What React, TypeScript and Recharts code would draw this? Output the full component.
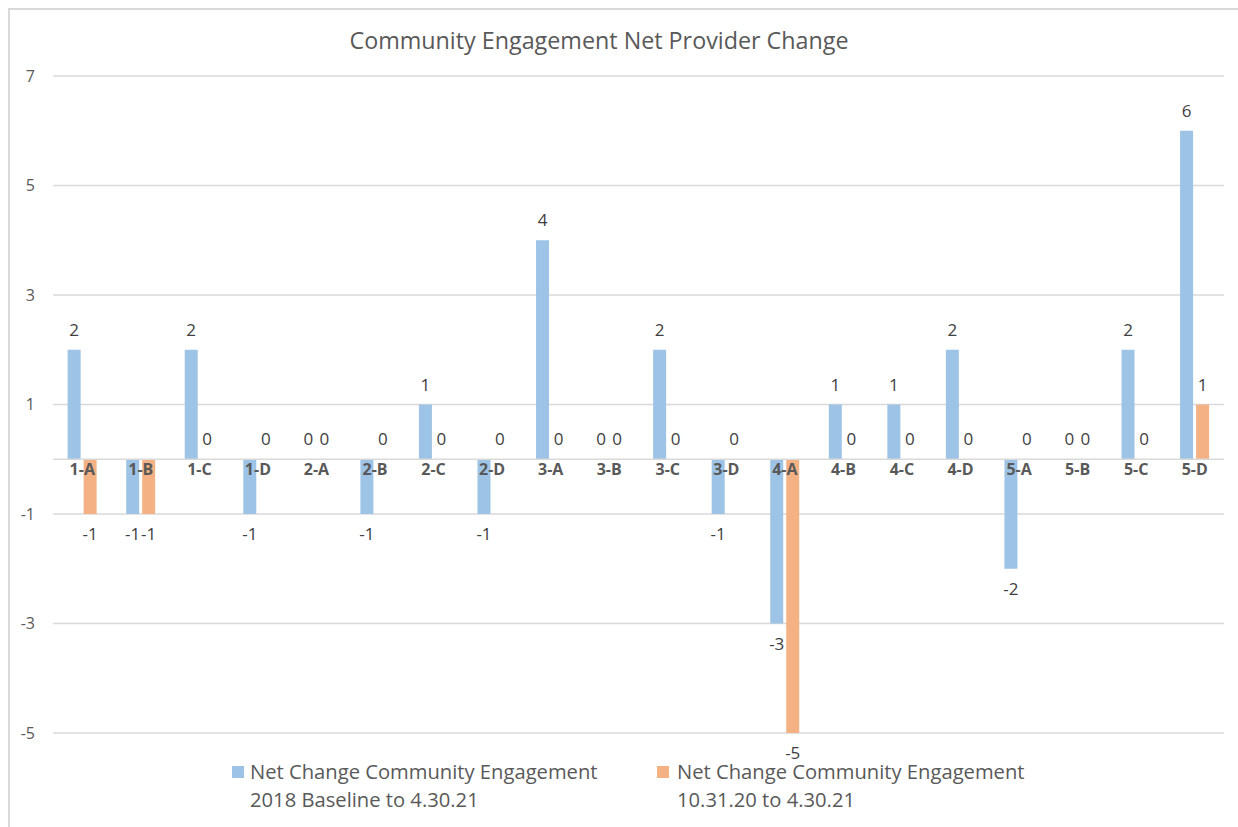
import { Bar, BarChart, CartesianGrid, LabelList, Legend, ReferenceLine, XAxis, YAxis } from "recharts";

const categories = ["1-A", "1-B", "1-C", "1-D", "2-A", "2-B", "2-C", "2-D", "3-A", "3-B", "3-C", "3-D", "4-A", "4-B", "4-C", "4-D", "5-A", "5-B", "5-C", "5-D"];
const baselineChange = [2, -1, 2, -1, 0, -1, 1, -1, 4, 0, 2, -1, -3, 1, 1, 2, -2, 0, 2, 6];
const recentChange = [-1, -1, 0, 0, 0, 0, 0, 0, 0, 0, 0, 0, -5, 0, 0, 0, 0, 0, 0, 1];
const yTicks = [-5, -3, -1, 1, 3, 5, 7];
const seriesNames = [
    ["Net Change Community Engagement", "2018 Baseline to 4.30.21"],
    ["Net Change Community Engagement", "10.31.20 to 4.30.21"],
];

const data = categories.map((name, i) => ({ name, baseline: baselineChange[i], recent: recentChange[i] }));

const BLUE = "#9DC3E6";
const ORANGE = "#F4B183";
const GRID = "#D9D9D9";
const TEXT = "#595959";
const FONT = "'Open Sans', sans-serif";

const W = 1228;
const H = 817;
const X_AXIS_H = 30;
const MARGIN = { top: 66, right: 14, bottom: 94 - X_AXIS_H, left: 0 };
const Y_MIN = -5;
const Y_MAX = 7;
const PLOT_H = H - MARGIN.top - MARGIN.bottom - X_AXIS_H;
const ZERO_Y = MARGIN.top + (PLOT_H * Y_MAX) / (Y_MAX - Y_MIN);

// category names sit on the zero line, not under the plot
const CategoryTick = (props: any) => {
    const { x, payload } = props;
    return (
        <text x={x} y={ZERO_Y + 16} textAnchor="middle" fontFamily={FONT} fontSize={16} fontWeight="bold" fill={TEXT}>
            {payload.value}
        </text>
    );
};

const ValueLabel = (props: any) => {
    const { x, y, width, height, value } = props;
    const top = Math.min(y, y + height);
    const bottom = Math.max(y, y + height);
    const cy = value < 0 ? bottom + 20 : top - 20;
    return (
        <text x={x + width / 2} y={cy + 6} textAnchor="middle" fontFamily={FONT} fontSize={17} fill="#404040">
            {String(value)}
        </text>
    );
};

// zero bars get a hairline so recharts still hands them to the labels
const zeroMin = (value: any) => (value === 0 ? 0.01 : 0);

const renderLegend = () => (
    <div style={{ position: "relative", height: 60, fontFamily: FONT, fontSize: 20.2, color: TEXT, lineHeight: "28px" }}>
        {[BLUE, ORANGE].map((c, i) => (
            <div key={i} style={{ position: "absolute", left: i == 0 ? 222 : 647, top: 0 }}>
                <span style={{ position: "absolute", left: 0, top: 9, width: 12, height: 12, background: c }} />
                <div style={{ marginLeft: i == 0 ? 18 : 20, whiteSpace: "nowrap" }}>
                    {seriesNames[i][0]}<br />{seriesNames[i][1]}
                </div>
            </div>
        ))}
    </div>
);

export default function App() {
    return (
        <>
            <style>{`body{margin:0;overflow:hidden}`}</style>
            <div style={{
                position: "absolute", left: 8, top: 8, width: W + 12, height: H + 12,
                borderLeft: `2px solid ${GRID}`, borderTop: `2px solid ${GRID}`, background: "#fff", overflow: "hidden"
            }}>
                <BarChart width={W} height={H} data={data} margin={MARGIN} barCategoryGap="25%" barGap={3}>
                    <text x={589} y={39} textAnchor="middle" fontFamily={FONT} fontSize={23.3} fill={TEXT}>
                        Community Engagement Net Provider Change
                    </text>
                    <CartesianGrid vertical={false} stroke={GRID} strokeWidth={1.5} />
                    <XAxis dataKey="name" height={X_AXIS_H} axisLine={false} tickLine={false} tick={<CategoryTick />} interval={0} />
                    <YAxis
                        width={43}
                        domain={[Y_MIN, Y_MAX]}
                        ticks={yTicks}
                        axisLine={false}
                        tickLine={false}
                        tickMargin={12}
                        tick={{ fontFamily: FONT, fontSize: 16, fill: TEXT }}
                    />
                    <ReferenceLine y={0} stroke={GRID} strokeWidth={1.5} />
                    <Legend
                        layout="horizontal"
                        verticalAlign="middle"
                        align="center"
                        content={renderLegend}
                        wrapperStyle={{ position: "absolute", left: 0, top: 747, width: W }}
                    />
                    <Bar dataKey="baseline" name="2018 Baseline to 4.30.21" fill={BLUE} minPointSize={zeroMin} isAnimationActive={false}>
                        <LabelList dataKey="baseline" content={<ValueLabel />} />
                    </Bar>
                    <Bar dataKey="recent" name="10.31.20 to 4.30.21" fill={ORANGE} minPointSize={zeroMin} isAnimationActive={false}>
                        <LabelList dataKey="recent" content={<ValueLabel />} />
                    </Bar>
                </BarChart>
            </div>
        </>
    );
}
